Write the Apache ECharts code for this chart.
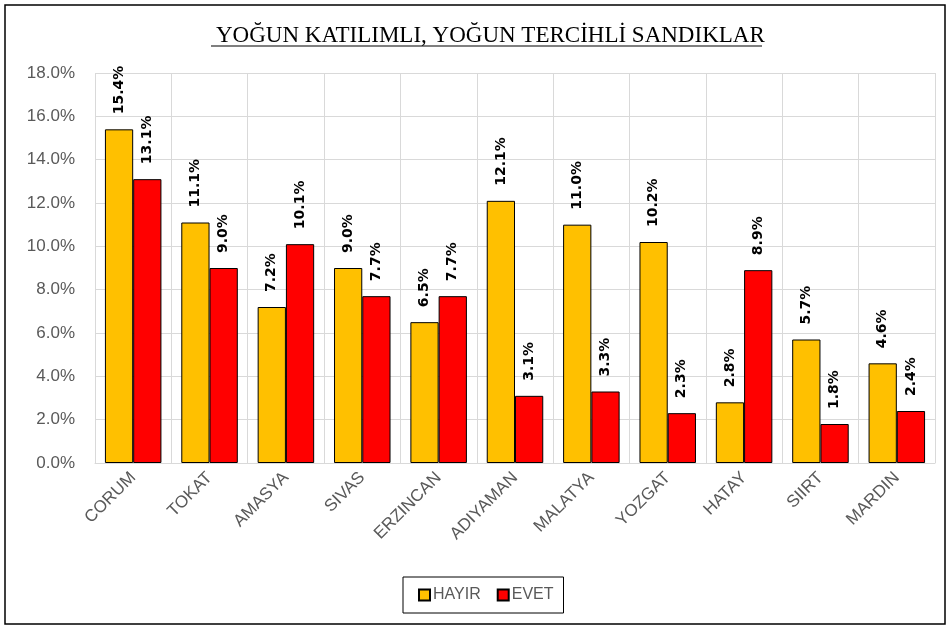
<!DOCTYPE html>
<html>
<head>
<meta charset="utf-8">
<script src="https://cdn.jsdelivr.net/npm/echarts@6/dist/echarts.min.js"></script>
<style>
  html, body { margin: 0; padding: 0; background: #fff; }
  #chart { width: 951px; height: 629px; }
</style>
</head>
<body>
<div id="chart"></div>
<script>
// veriler
const iller = ['CORUM', 'TOKAT', 'AMASYA', 'SIVAS', 'ERZINCAN', 'ADIYAMAN', 'MALATYA', 'YOZGAT', 'HATAY', 'SIIRT', 'MARDIN']
const hayir = [15.4, 11.1, 7.2, 9.0, 6.5, 12.1, 11.0, 10.2, 2.8, 5.7, 4.6]
const evet = [13.1, 9.0, 10.1, 7.7, 7.7, 3.1, 3.3, 2.3, 8.9, 1.8, 2.4]

const chart = echarts.init(document.getElementById('chart'))

const etiket = {
  show: true,
  position: 'top',
  rotate: 90,
  align: 'left',
  verticalAlign: 'middle',
  distance: 15,
  color: '#000',
  fontWeight: 'bold',
  fontSize: 14,
  fontFamily: 'DejaVu Sans',
  formatter: p => p.value.toFixed(1) + '%'
}

chart.setOption({
  animation: false,
  title: {
    text: 'YOĞUN KATILIMLI, YOĞUN TERCİHLİ SANDIKLAR',
    left: 211,
    top: 19,
    textStyle: {
      fontFamily: 'Liberation Serif',
      fontWeight: 'normal',
      fontSize: 23,
      color: '#000'
    }
  },
  graphic: [
    // dış çerçeve
    { type: 'rect', shape: { x: 5, y: 5, width: 940, height: 619 }, style: { fill: 'none', stroke: '#000', lineWidth: 1.5 }, silent: true },
    // başlık altı çizgi
    { type: 'line', shape: { x1: 211, y1: 46, x2: 762, y2: 46 }, style: { stroke: '#000', lineWidth: 1.2 }, silent: true }
  ],
  legend: {
    top: 577,
    left: 403,
    padding: [10, 10, 10, 15],
    borderColor: '#000',
    borderWidth: 1,
    itemWidth: 11,
    itemHeight: 11,
    itemGap: 16,
    icon: 'rect',
    textStyle: { color: '#595959', fontSize: 16, fontFamily: 'Liberation Sans', padding: [0, 0, 0, -2] },
    data: ['HAYIR', 'EVET']
  },
  grid: { left: 95, right: 16, top: 73, bottom: 166 },
  xAxis: {
    type: 'category',
    data: iller,
    axisLine: { lineStyle: { color: '#d9d9d9' } },
    axisTick: { show: false },
    splitLine: { show: true, lineStyle: { color: '#d9d9d9' } },
    axisLabel: {
      rotate: 45,
      color: '#595959',
      fontSize: 17,
      fontFamily: 'Liberation Sans',
      margin: 12
    }
  },
  yAxis: {
    type: 'value',
    min: 0,
    max: 18,
    interval: 2,
    axisLine: { show: false },
    axisTick: { show: false },
    splitLine: { lineStyle: { color: '#d9d9d9' } },
    axisLabel: {
      color: '#595959',
      fontSize: 17,
      fontFamily: 'Liberation Sans',
      margin: 20,
      formatter: v => v.toFixed(1) + '%'
    }
  },
  series: [
    {
      name: 'HAYIR',
      type: 'bar',
      data: hayir,
      barGap: '0%',
      barCategoryGap: '26%',
      itemStyle: { color: '#FFC000', borderColor: '#000', borderWidth: 1 },
      label: etiket
    },
    {
      name: 'EVET',
      type: 'bar',
      data: evet,
      itemStyle: { color: '#FF0000', borderColor: '#000', borderWidth: 1 },
      label: etiket
    }
  ]
})
</script>
</body>
</html>
